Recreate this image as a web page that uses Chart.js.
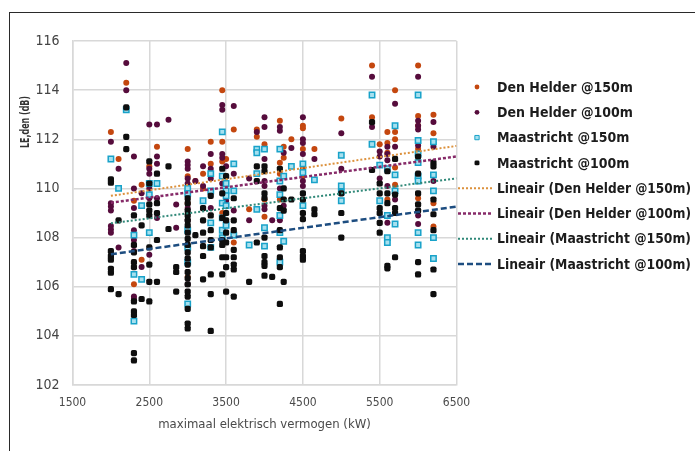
<!DOCTYPE html>
<html>
<head>
<meta charset="utf-8">
<script src="https://cdn.jsdelivr.net/npm/chart.js@4.4.0/dist/chart.umd.min.js"></script>
<style>
  html, body { margin: 0; padding: 0; background: #fff; }
  #wrap { position: relative; width: 695px; height: 451px; overflow: hidden; }
  #kader { position: absolute; left: 9px; top: 12px; width: 700px; height: 450px;
           border-top: 1.5px solid #2a2a2a; border-left: 1.5px solid #2a2a2a; }
  canvas { position: absolute; left: 0; top: 0; }
</style>
</head>
<body>
<div id="wrap">
  <div id="kader"></div>
  <canvas id="grafiek" width="695" height="451"></canvas>
</div>
<script>
// kolommen: [vermogen kW, [LE,den waarden dB]]
const denHelder150 = [
  [2000, [112.3]], [2100, [111.2]], [2200, [114.3]], [2300, [109.5, 106.1]],
  [2400, [110.15, 107.1]], [2500, [110.9]], [2600, [111.7]],
  [3000, [111.6, 110.5, 109.4, 106.4]], [3100, [110.3]], [3200, [110.6, 110.0]],
  [3300, [111.9, 111.0]], [3450, [114.0, 111.9, 111.1, 109.0]], [3500, [111.2]],
  [3600, [112.4, 107.8]], [3800, [109.15]], [3900, [112.4, 112.1]],
  [4000, [111.8, 109.55, 108.85]], [4200, [112.75, 111.05, 110.6, 109.55]],
  [4250, [111.7, 111.25]], [4350, [112.0]], [4500, [112.55, 112.45, 111.6, 110.8, 110.5]],
  [4650, [111.6]], [5000, [112.85]], [5400, [115.0, 112.9]], [5500, [111.8]],
  [5600, [112.3, 111.85, 111.45, 109.55]], [5700, [114.0, 112.3, 112.0, 110.85, 110.15]],
  [6000, [115.0, 112.95, 112.55, 111.6, 109.6]], [6200, [113.0, 112.25, 109.4, 108.45]]
];
const denHelder100 = [
  [2000, [111.9, 109.4, 109.26, 109.1, 108.47, 108.33, 108.2]], [2100, [110.8, 107.6]],
  [2200, [115.1, 114.0]], [2300, [111.3, 110.0, 109.2, 108.3, 107.9, 107.45, 105.6, 105.5]],
  [2400, [109.8, 106.8]], [2500, [112.6, 110.8, 110.6, 110.0, 109.6, 107.3]],
  [2600, [112.6, 111.3, 111.0, 109.6, 108.8]], [2750, [112.8]], [2850, [109.35, 108.4]],
  [3000, [111.1, 110.95, 110.8, 110.4, 110.2, 109.2, 108.7, 106.1]], [3100, [110.3]],
  [3200, [110.9, 110.1]], [3300, [111.4, 110.8, 110.4, 109.2]],
  [3450, [113.4, 113.2, 111.4, 111.25, 110.2]], [3500, [110.9, 109.5]],
  [3600, [113.35, 110.6, 109.1]], [3800, [110.4, 108.7]], [3900, [112.3]],
  [4000, [112.9, 112.5, 111.6, 111.2, 110.3, 110.1, 109.3, 109.15]], [4100, [108.7]],
  [4200, [112.5, 112.35, 110.0, 108.7]], [4250, [111.45, 109.3]], [4350, [111.65]],
  [4500, [112.9, 112.0, 111.85, 111.4, 110.3, 110.1]], [4650, [111.2]], [5000, [112.25, 110.8]],
  [5400, [114.55, 112.5]], [5500, [111.5, 111.3, 110.4]], [5600, [111.7, 111.4, 111.15, 110.1, 108.6]],
  [5700, [113.45, 111.7, 109.55]], [6000, [114.55, 112.75, 112.55, 112.4, 111.75, 108.9, 108.55]],
  [6200, [112.7, 111.7, 110.3]]
];
const maastricht150 = [
  [2000, [111.2]], [2100, [110.0]], [2200, [113.2]], [2300, [108.1, 106.5, 104.6]],
  [2400, [109.3, 106.3]], [2500, [110.2, 109.75, 108.2]], [2600, [110.2]],
  [3000, [110.0, 109.8, 108.3, 107.6, 107.0, 105.3]], [3200, [109.5]],
  [3300, [110.6, 109.9, 108.6, 107.6]], [3450, [112.3, 110.5, 109.4, 108.8, 108.3, 108.0]],
  [3500, [110.2, 109.9, 109.7, 109.3, 108.5]], [3600, [111.0, 109.9, 108.1]], [3800, [107.7]],
  [3900, [111.6, 111.45, 110.6, 109.15]], [4000, [111.6, 108.4, 107.65]],
  [4200, [111.6, 110.3, 109.75, 108.9, 108.2, 107.0]], [4250, [110.5, 107.85]], [4350, [110.9]],
  [4500, [111.0, 110.65, 109.3]], [4650, [110.35]], [5000, [111.35, 110.1, 109.85, 109.5]],
  [5400, [113.8, 111.8]], [5500, [110.95, 109.5]], [5600, [110.8, 108.9, 108.0, 107.8]],
  [5700, [112.55, 110.55, 109.9, 108.55]], [6000, [113.8, 111.95, 111.4, 111.05, 110.5, 110.3, 108.2, 107.7]],
  [6200, [111.9, 110.55, 109.9, 108.0, 107.15]]
];
const maastricht100 = [
  [2000, [110.37, 110.23, 107.45, 107.25, 107.1, 106.73, 106.57, 105.9]], [2100, [108.7, 105.7]],
  [2200, [113.3, 112.1, 111.6]], [2300, [108.9, 107.7, 107.4, 107.0, 106.8, 105.4, 105.0, 104.85, 103.3, 103.0]],
  [2400, [108.5, 105.5]], [2500, [111.1, 110.2, 109.35, 109.1, 108.9, 107.6, 106.9, 106.2, 105.4]],
  [2600, [110.6, 109.4, 109.0, 107.9, 106.2]], [2750, [110.9, 108.35]], [2850, [106.8, 106.6, 105.8]],
  [3000, [109.6, 109.4, 109.1, 108.9, 108.7, 108.5, 108.2, 107.95, 107.7, 107.4, 107.15, 106.9,
          106.6, 106.35, 106.1, 105.8, 105.6, 105.1, 104.5, 104.3]],
  [3100, [108.1]], [3200, [109.2, 108.7, 108.2, 107.65, 107.25, 106.3]],
  [3300, [109.7, 108.9, 108.3, 107.9, 107.6, 106.5, 105.7, 104.2]],
  [3450, [110.8, 109.8, 108.8, 107.9, 107.7, 107.2, 106.5]],
  [3500, [110.5, 109.0, 108.7, 108.2, 107.8, 107.2, 106.8, 105.8]],
  [3600, [109.6, 108.7, 108.3, 107.5, 107.2, 106.9, 106.7, 105.6]], [3800, [106.2]],
  [3900, [110.9, 110.3, 107.8]], [4000, [110.9, 110.7, 109.8, 109.6, 108.0, 107.25, 107.0, 106.85, 106.45]],
  [4100, [106.4]], [4200, [110.8, 109.2, 108.3, 107.6, 107.2, 106.8, 105.3]],
  [4250, [110.0, 109.55, 109.1, 106.2]], [4350, [109.55]],
  [4500, [109.8, 109.55, 109.0, 108.75, 107.45, 107.25, 107.1]], [4650, [109.15, 108.95]],
  [5000, [109.8, 109.0, 108.0]], [5400, [112.7, 110.75]], [5500, [110.2, 109.8, 109.2, 109.0, 108.6, 108.2]],
  [5600, [110.7, 109.8, 109.4, 106.85, 106.75]], [5700, [111.2, 109.75, 109.2, 109.0, 107.2]],
  [6000, [111.3, 110.6, 109.8, 109.35, 109.1, 107.0, 106.5]],
  [6200, [111.05, 110.9, 109.55, 108.95, 108.3, 106.7, 105.7]]
];
// lineaire trendlijnen: begin- en eindpunt
const trendDH150 = [[2000, 109.7], [6500, 111.73]];
const trendDH100 = [[2000, 109.42], [6500, 111.3]];
const trendM150 = [[2000, 108.58], [6500, 110.41]];
const trendM100 = [[2000, 107.32], [6500, 109.26]];

const xTicks = [1500, 2500, 3500, 4500, 5500, 6500];
const yTicks = [102, 104, 106, 108, 110, 112, 114, 116];

const lettertype = '"DejaVu Sans Condensed", "Liberation Sans Narrow", sans-serif';

function punten(kolommen) {
  const lijst = [];
  kolommen.forEach(([kw, waarden]) => waarden.forEach(v => lijst.push({ x: kw, y: v })));
  return lijst;
}
function lijn(paren) {
  return paren.map(([x, y]) => ({ x, y }));
}

const legendaPlugin = {
  id: 'legenda',
  afterDraw(chart) {
    const ctx = chart.ctx;
    // titel y-as
    ctx.save();
    ctx.translate(26, 122);
    ctx.rotate(-Math.PI / 2);
    ctx.font = 'bold 13px ' + lettertype;
    ctx.fillStyle = '#333';
    ctx.textAlign = 'center';
    ctx.textBaseline = 'middle';
    ctx.fillText('LE,den (dB)', 0, 0, 52);
    ctx.restore();

    // legenda rechts
    chart.data.datasets.forEach((ds, i) => {
      const y = 87 + i * 25.3;
      ctx.save();
      if (ds.showLine) {
        ctx.strokeStyle = ds.borderColor;
        ctx.lineWidth = ds.borderWidth;
        ctx.setLineDash(ds.borderDash || []);
        ctx.beginPath();
        ctx.moveTo(458, y);
        ctx.lineTo(493, y);
        ctx.stroke();
      } else {
        ctx.fillStyle = ds.backgroundColor;
        ctx.strokeStyle = ds.borderColor;
        Chart.helpers.drawPoint(ctx, {
          pointStyle: ds.pointStyle, radius: ds.pointRadius * 0.8,
          borderWidth: ds.borderWidth, rotation: 0
        }, 477, y);
      }
      ctx.setLineDash([]);
      ctx.font = 'bold 14px ' + lettertype;
      ctx.fillStyle = '#1c1c1c';
      ctx.textBaseline = 'middle';
      ctx.fillText(ds.label, 497, y + 1, 194);
      ctx.restore();
    });
  }
};

const ctx = document.getElementById('grafiek').getContext('2d');
new Chart(ctx, {
  type: 'scatter',
  data: {
    datasets: [
      { label: 'Den Helder @150m', data: punten(denHelder150), order: 4,
        pointStyle: 'circle', pointRadius: 3, borderWidth: 0,
        backgroundColor: '#c4470f', borderColor: '#c4470f' },
      { label: 'Den Helder @100m', data: punten(denHelder100), order: 3,
        pointStyle: 'circle', pointRadius: 3, borderWidth: 0,
        backgroundColor: '#560c3c', borderColor: '#560c3c' },
      { label: 'Maastricht @150m', data: punten(maastricht150), order: 2,
        pointStyle: 'rect', pointRadius: 3.8, borderWidth: 1.5,
        backgroundColor: '#a6e0ef', borderColor: '#18a2c9' },
      { label: 'Maastricht @100m', data: punten(maastricht100), order: 1,
        pointStyle: 'rectRounded', pointRadius: 3.6, borderWidth: 0,
        backgroundColor: '#0e0e0e', borderColor: '#0e0e0e' },
      { label: 'Lineair (Den Helder @150m)', data: lijn(trendDH150), order: 0,
        showLine: true, pointRadius: 0, borderColor: '#dc913c', borderWidth: 2, borderDash: [2, 2] },
      { label: 'Lineair (Den Helder @100m)', data: lijn(trendDH100), order: 0,
        showLine: true, pointRadius: 0, borderColor: '#862a68', borderWidth: 2.5, borderDash: [3, 2] },
      { label: 'Lineair (Maastricht @150m)', data: lijn(trendM150), order: 0,
        showLine: true, pointRadius: 0, borderColor: '#2f8878', borderWidth: 2, borderDash: [2, 2] },
      { label: 'Lineair (Maastricht @100m)', data: lijn(trendM100), order: 0,
        showLine: true, pointRadius: 0, borderColor: '#1d4d80', borderWidth: 2.5, borderDash: [6, 3] }
    ]
  },
  options: {
    responsive: false,
    animation: false,
    layout: { padding: { left: 0, right: 238.5, top: 41, bottom: 16 } },
    plugins: { legend: { display: false }, tooltip: { enabled: false } },
    scales: {
      x: {
        type: 'linear', min: 1500, max: 6500,
        afterBuildTicks: s => { s.ticks = xTicks.map(v => ({ value: v })); },
        afterFit: s => { s.height = 50; },
        grid: { color: '#d8d8d8', lineWidth: 1.5, drawTicks: false },
        border: { color: '#d8d8d8', width: 1.5 },
        ticks: { padding: 11, color: '#4a4a4a', font: { family: lettertype, size: 12 },
                 callback: v => String(v) },
        title: { display: true, text: 'maximaal elektrisch vermogen (kW)', color: '#4a4a4a',
                 font: { family: lettertype, size: 13 }, padding: { top: 0, bottom: 3 } }
      },
      y: {
        type: 'linear', min: 102, max: 116,
        afterBuildTicks: s => { s.ticks = yTicks.map(v => ({ value: v })); },
        afterFit: s => { s.width = 72.5; },
        grid: { color: '#d8d8d8', lineWidth: 1.5, drawTicks: false },
        border: { color: '#d8d8d8', width: 1.5 },
        ticks: { padding: 13, color: '#444', font: { family: lettertype, size: 14 },
                 callback: v => String(v) }
      }
    }
  },
  plugins: [legendaPlugin]
});
</script>
</body>
</html>
